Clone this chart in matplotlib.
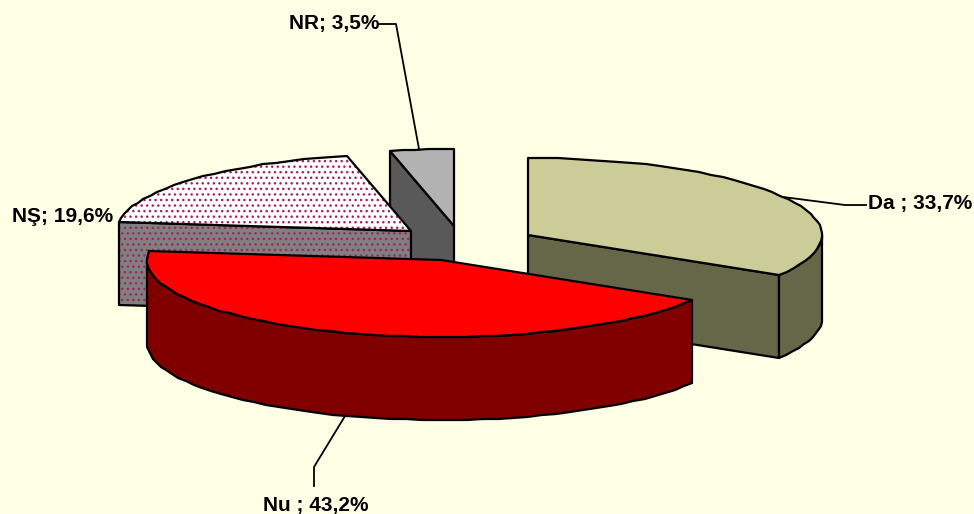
import matplotlib.pyplot as plt
import numpy as np

plt.rcParams['font.family'] = ['Liberation Sans', 'DejaVu Sans']
plt.rcParams['hatch.linewidth'] = 1.0

names = ['Da ', 'Nu ', 'NŞ', 'NR']
values = [33.7, 43.2, 19.6, 3.5]

# screen layout of the pie, in pixels
apex_x = [528, 441, 411, 454]
apex_y = [235, 260, 231, 226]
rx = 294
ry = 77
depth = 83

top_colors = ['#CCCC99', '#FF0000', '#FFFFFF', '#B2B2B2']
wall_colors = ['#666648', '#800000', '#808080', '#595959']
hatches = [None, None, '...', None]
dot_color = '#A5245E'
bg = '#FFFFE5'

label_x = [868, 316, 12, 289]
label_y = [204, 506, 216, 24]
label_ha = ['left', 'center', 'left', 'left']
leader_x = [[783, 845, 866], [345, 314, 314], [], [419, 396, 379]]
leader_y = [[197, 205, 205], [416, 467, 486], [], [149, 24, 24]]

W, H = 974, 514
fig = plt.figure(figsize=(W / 100, H / 100), dpi=100, facecolor=bg)
ax = fig.add_axes([0, 0, 1, 1])
ax.set_xlim(0, W)
ax.set_ylim(H, 0)
ax.axis('off')


def rim(cx, cy, a0, a1, dy=0):
    # angles in degrees, clockwise from 12 o'clock
    n = max(2, int(abs(a1 - a0) / 3) + 2)
    a = np.radians(np.linspace(a0, a1, n))
    # the rounding gives the slightly rough outline of the original
    return np.round(np.column_stack([cx + rx * np.sin(a), cy - ry * np.cos(a) + dy]))


def face(pts, color, hatch):
    ax.fill(pts[:, 0], pts[:, 1], facecolor=color, edgecolor='none', zorder=z[0])
    if hatch:
        ax.fill(pts[:, 0], pts[:, 1], facecolor='none', edgecolor=dot_color,
                hatch=hatch, linewidth=0, zorder=z[0])
    ax.fill(pts[:, 0], pts[:, 1], facecolor='none', edgecolor='black',
            linewidth=1.6, joinstyle='round', zorder=z[0])
    z[0] += 1


z = [1]
ends = np.cumsum(values) / sum(values) * 360
starts = np.concatenate([[0], ends[:-1]])
for i in [3, 2, 0, 1]:
    cx, cy = apex_x[i], apex_y[i]
    a0, a1 = starts[i], ends[i]
    # walls along the cut edges that turn toward the viewer
    for a, normal in [(a0, a0 - 90), (a1, a1 + 90)]:
        if np.cos(np.radians(normal)) < -1e-6:
            p = rim(cx, cy, a, a)[0]
            wall = np.array([[cx, cy], p, p + [0, depth], [cx, cy + depth]])
            face(wall, wall_colors[i], hatches[i])
    # outer curved wall, front half only
    lo, hi = max(a0, 90), min(a1, 270)
    if hi > lo:
        wall = np.vstack([rim(cx, cy, lo, hi), rim(cx, cy, hi, lo, depth)])
        face(wall, wall_colors[i], hatches[i])
    top = np.vstack([[cx, cy], rim(cx, cy, a0, a1)])
    face(top, top_colors[i], hatches[i])

for i in range(4):
    ax.plot(leader_x[i], leader_y[i], color='black', linewidth=1.3, zorder=20)
    txt = '{}; {:.1f}%'.format(names[i], values[i]).replace('.', ',')
    ax.text(label_x[i], label_y[i], txt, fontsize=15, fontweight='bold',
            ha=label_ha[i], va='center', color='black', zorder=21)

fig.savefig('out.png', dpi=100, facecolor=bg)
